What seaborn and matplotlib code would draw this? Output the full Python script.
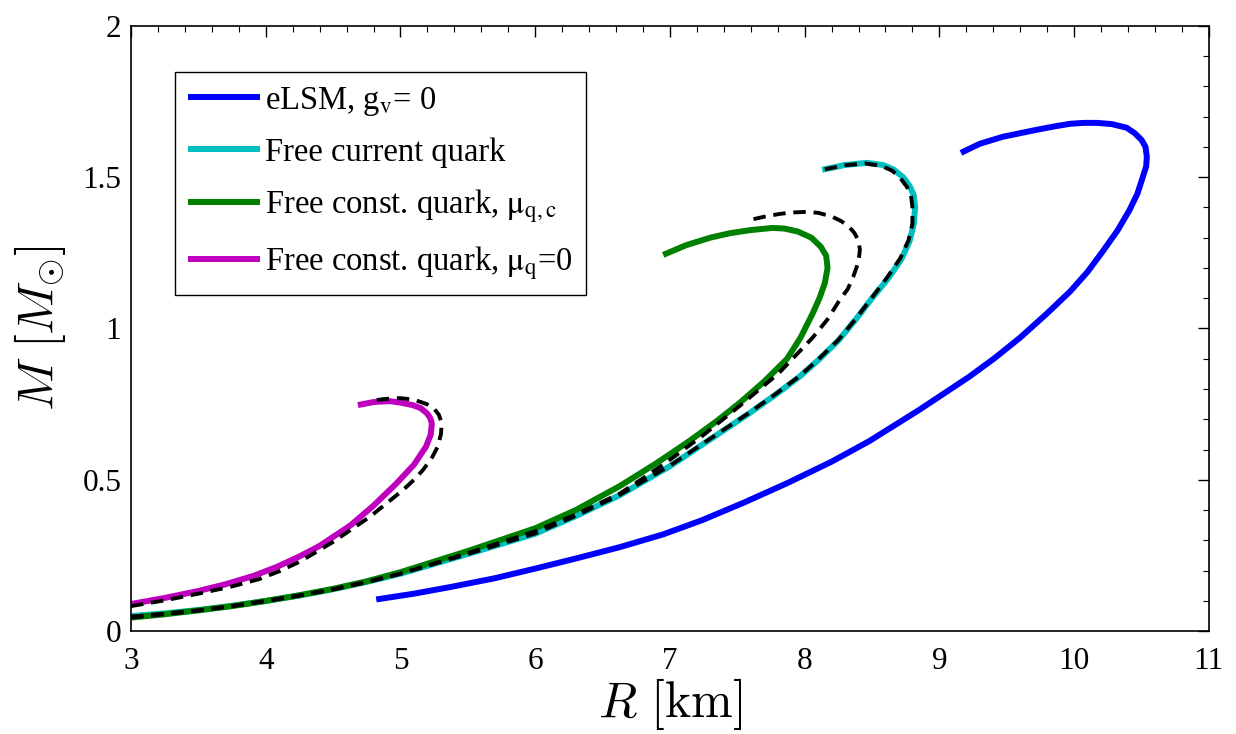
import matplotlib
matplotlib.use("Agg")
import matplotlib.pyplot as plt
import seaborn as sns
from matplotlib.ticker import MultipleLocator

# eLSM, g_v = 0
elsm_r = [4.82, 5.10, 5.37, 5.70, 6.01, 6.30, 6.63, 6.95, 7.24, 7.55, 7.87, 8.20, 8.48, 8.85,
          9.22, 9.41, 9.60, 9.80, 9.97, 10.10, 10.21, 10.32, 10.41, 10.47, 10.51, 10.535, 10.54,
          10.53, 10.50, 10.45, 10.39, 10.28, 10.17, 10.07, 9.97, 9.85, 9.72, 9.60, 9.47,
          9.30, 9.16]
elsm_m = [0.105, 0.124, 0.146, 0.175, 0.208, 0.240, 0.278, 0.320, 0.367, 0.425, 0.489, 0.560,
          0.628, 0.731, 0.840, 0.902, 0.970, 1.050, 1.122, 1.187, 1.253, 1.322, 1.390, 1.445,
          1.500, 1.535, 1.567, 1.600, 1.623, 1.645, 1.663, 1.675, 1.679, 1.679, 1.676, 1.667,
          1.656, 1.645, 1.633, 1.610, 1.580]

# free current quark (solid) and its dashed counterpart
cur_r = [3.0, 3.25, 3.5, 3.75, 4.0, 4.25, 4.5, 4.75, 5.0, 5.5, 6.0, 6.3, 6.63, 7.0, 7.32,
         7.59, 7.78, 7.96, 8.10, 8.25, 8.38, 8.50, 8.62, 8.72, 8.78, 8.81, 8.82, 8.81, 8.78,
         8.73, 8.66, 8.58, 8.46, 8.30, 8.13]
cur_m = [0.050, 0.059, 0.070, 0.084, 0.100, 0.118, 0.139, 0.163, 0.190, 0.255, 0.322, 0.380,
         0.450, 0.545, 0.640, 0.720, 0.780, 0.840, 0.895, 0.960, 1.030, 1.100, 1.165, 1.230,
         1.290, 1.345, 1.400, 1.440, 1.470, 1.500, 1.525, 1.540, 1.547, 1.540, 1.524]
cur_ref_r = [3.0, 3.25, 3.5, 3.75, 4.0, 4.25, 4.5, 4.75, 5.0, 5.5, 6.0, 6.3, 6.63, 7.0, 7.32,
             7.59, 7.78, 7.96, 8.10, 8.25, 8.38, 8.50, 8.61, 8.71, 8.77, 8.80, 8.80, 8.79,
             8.76, 8.71, 8.65, 8.57, 8.45, 8.30, 8.13]
cur_ref_m = [0.048, 0.058, 0.069, 0.083, 0.100, 0.118, 0.138, 0.162, 0.190, 0.255, 0.323,
             0.381, 0.451, 0.547, 0.642, 0.722, 0.782, 0.842, 0.897, 0.962, 1.032, 1.102,
             1.167, 1.232, 1.290, 1.345, 1.400, 1.438, 1.467, 1.497, 1.521, 1.537, 1.545,
             1.539, 1.524]

# free constituent quark, mu_q,c (solid) and its dashed counterpart
con_r = [3.0, 3.25, 3.5, 3.75, 4.0, 4.25, 4.5, 4.75, 5.0, 5.5, 6.0, 6.3, 6.63, 6.9, 7.15,
         7.35, 7.52, 7.70, 7.87, 7.97, 8.06, 8.11, 8.15, 8.17, 8.16, 8.12, 8.05, 7.95, 7.85,
         7.76, 7.60, 7.45, 7.30, 7.12, 6.95]
con_m = [0.045, 0.056, 0.069, 0.083, 0.100, 0.119, 0.140, 0.165, 0.195, 0.265, 0.340, 0.400,
         0.480, 0.555, 0.630, 0.695, 0.755, 0.825, 0.900, 0.970, 1.050, 1.100, 1.150, 1.200,
         1.240, 1.270, 1.300, 1.320, 1.330, 1.332, 1.325, 1.315, 1.300, 1.275, 1.243]
con_ref_r = [3.0, 3.25, 3.5, 3.75, 4.0, 4.25, 4.5, 4.75, 5.0, 5.5, 6.0, 6.3, 6.63, 6.95,
             7.24, 7.52, 7.81, 8.06, 8.17, 8.26, 8.32, 8.36, 8.40, 8.41, 8.40, 8.37, 8.33,
             8.27, 8.20, 8.10, 8.01, 7.90, 7.81, 7.71, 7.61]
con_ref_m = [0.045, 0.056, 0.068, 0.083, 0.100, 0.118, 0.139, 0.163, 0.190, 0.258, 0.330,
             0.385, 0.455, 0.550, 0.645, 0.745, 0.853, 0.970, 1.030, 1.094, 1.130, 1.170,
             1.220, 1.260, 1.290, 1.315, 1.336, 1.355, 1.370, 1.382, 1.385, 1.383, 1.378,
             1.370, 1.360]

# free constituent quark, mu_q = 0 (solid) and its dashed counterpart
zero_r = [3.0, 3.25, 3.5, 3.7, 3.91, 4.08, 4.25, 4.40, 4.63, 4.80, 4.97, 5.10, 5.19, 5.225,
          5.233, 5.22, 5.196, 5.15, 5.09, 5.00, 4.92, 4.80, 4.684]
zero_m = [0.090, 0.110, 0.133, 0.155, 0.183, 0.212, 0.247, 0.282, 0.350, 0.415, 0.488, 0.550,
          0.610, 0.650, 0.687, 0.705, 0.720, 0.737, 0.747, 0.755, 0.760, 0.757, 0.747]
zero_ref_r = [3.0, 3.25, 3.5, 3.75, 3.95, 4.10, 4.254, 4.50, 4.773, 5.018, 5.10, 5.166, 5.23,
              5.277, 5.30, 5.307, 5.285, 5.25, 5.196, 5.10, 4.996, 4.88, 4.773]
zero_ref_m = [0.083, 0.102, 0.124, 0.148, 0.172, 0.198, 0.230, 0.295, 0.378, 0.466, 0.500,
              0.532, 0.570, 0.610, 0.650, 0.687, 0.715, 0.735, 0.750, 0.765, 0.770, 0.767,
              0.760]

labels = [
    r"eLSM, g$_\mathrm{v}$= 0",
    "Free current quark",
    r"Free const. quark, $\mathrm{\mu}_\mathrm{q,c}$",
    r"Free const. quark, $\mathrm{\mu}_\mathrm{q}$=0",
]
colors = ["#0000ff", "#00bfbf", "#008000", "#bf00bf"]

sns.set_theme(style="white")
plt.rcParams["font.family"] = ["Liberation Serif", "DejaVu Serif"]
plt.rcParams["mathtext.fontset"] = "stix"
for key in ["text.color", "axes.labelcolor", "xtick.color", "ytick.color"]:
    plt.rcParams[key] = "black"

fig = plt.figure(figsize=(12.36, 7.34), dpi=100)
ax = fig.add_axes([0.106, 0.140, 0.872, 0.825])

solid = [(elsm_r, elsm_m), (cur_r, cur_m), (con_r, con_m), (zero_r, zero_m)]
for (r, m), col, lab in zip(solid, colors, labels):
    sns.lineplot(x=r, y=m, sort=False, estimator=None, color=col, lw=4.3,
                 label=lab, ax=ax, solid_capstyle="butt", solid_joinstyle="round")

dash = (0, (3.2, 2.0))
for r, m in [(cur_ref_r, cur_ref_m), (con_ref_r, con_ref_m), (zero_ref_r, zero_ref_m)]:
    sns.lineplot(x=r, y=m, sort=False, estimator=None, color="black", lw=2.8,
                 linestyle=dash, ax=ax, legend=False)

ax.set_xlim(3, 11)
ax.set_ylim(0, 2)
ax.xaxis.set_major_locator(MultipleLocator(1))
ax.xaxis.set_minor_locator(MultipleLocator(0.2))
ax.yaxis.set_major_locator(MultipleLocator(0.5))
ax.yaxis.set_minor_locator(MultipleLocator(0.1))
ax.set_yticks([0, 0.5, 1, 1.5, 2])
ax.set_yticklabels(["0", "0.5", "1", "1.5", "2"])
ax.tick_params(which="both", direction="in", top=True, right=True,
               labelsize=22.5, color="black")
ax.tick_params(axis="x", pad=11)
ax.tick_params(axis="y", pad=7)
ax.tick_params(which="major", length=8, width=1.0)
ax.tick_params(which="minor", length=4, width=0.8)
for s in ax.spines.values():
    s.set_color("black")
    s.set_linewidth(1.2)

xl = ax.set_xlabel(r"$R\ [\mathrm{km}]$", fontsize=36, labelpad=0)
yl = ax.set_ylabel(r"$M\ [M_{\odot}]$", fontsize=36, labelpad=10)
xl.set_math_fontfamily("cm")
yl.set_math_fontfamily("cm")

leg = ax.legend(loc="upper left", bbox_to_anchor=(0.041, 0.924), borderaxespad=0,
                fontsize=23.5, handlelength=2.2, handletextpad=0.15, labelspacing=0.6,
                borderpad=0.4, fancybox=False, framealpha=1, edgecolor="black")
leg.get_frame().set_linewidth(1.0)
for t in leg.get_texts():
    t.set_math_fontfamily("stix")

fig.savefig("out.png", dpi=100)
